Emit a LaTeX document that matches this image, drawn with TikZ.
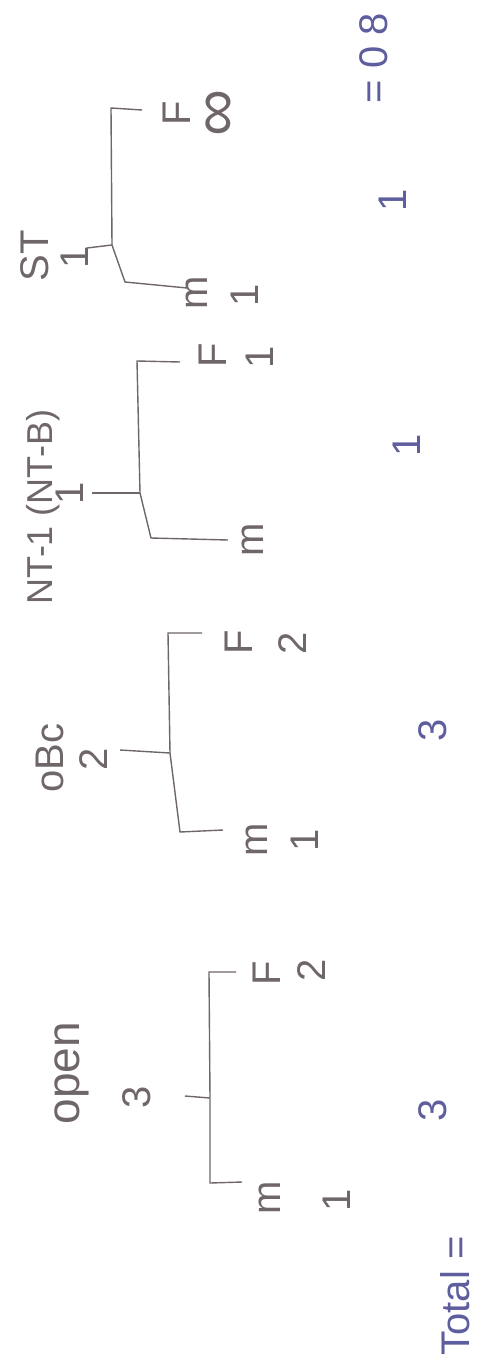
\documentclass[tikz,border=0pt]{standalone}
\usepackage{fontspec}
\setmainfont{Liberation Sans}
\usepackage{tikz}
\usepackage{xcolor}
\definecolor{pencil}{HTML}{6F6668}
\definecolor{ink}{HTML}{5E5E9E}

\tikzset{
	lbl/.style={rotate=90,text=pencil,font=\fontsize{40}{40}\selectfont,inner sep=0pt},
	tot/.style={lbl,text=ink},
	bracket/.style={draw=pencil,line width=1.4pt}
}

\begin{document}
\begin{tikzpicture}[x=1pt,y=-1pt]
		\useasboundingbox (0,0) rectangle (492,1370);
		\node[lbl,font=\fontsize{46}{46}\selectfont] (open) at (72,1073) {open};
		\node[lbl] (opencnt) at (137,1097) {3};
		\node[lbl] (openm) at (270,1198) {m};
		\node[lbl] (openmn) at (337,1200) {1};
		\node[lbl] (openf) at (267,973) {F};
		\node[lbl] (openfn) at (312,970) {2};
		\coordinate (openS) at (185,1096);
		\coordinate (openJ) at (210,1098);
		\coordinate (openT) at (209,972);
		\coordinate (openB) at (210,1183);
		\draw[bracket] (openS)--(openJ);
		\draw[bracket] (242,1182)--(openB)--(openJ)--(openT)--(236,972);
		\node[lbl] (obc) at (50,758) {oBc};
		\node[lbl] (obccnt) at (94,759) {2};
		\node[lbl] (obcm) at (257,840) {m};
		\node[lbl] (obcmn) at (305,840) {1};
		\node[lbl] (obcf) at (239,642) {F};
		\node[lbl] (obcfn) at (293,643) {2};
		\coordinate (obcS) at (120,750);
		\coordinate (obcJ) at (170,753);
		\coordinate (obcT) at (168,633);
		\coordinate (obcB) at (180,832);
		\draw[bracket] (obcS)--(obcJ);
		\draw[bracket] (223,830)--(obcB)--(obcJ)--(obcT)--(202,633);
		\node[lbl,font=\fontsize{36}{36}\selectfont] (nt) at (43,507) {NT-1 (NT-B)};
		\node[lbl] (ntcnt) at (70,493) {1};
		\node[lbl] (ntm) at (253,540) {m};
		\node[lbl] (ntf) at (213,355) {F};
		\node[lbl] (ntfn) at (260,357) {1};
		\coordinate (ntS) at (92,493);
		\coordinate (ntJ) at (140,493);
		\coordinate (ntT) at (137,361);
		\coordinate (ntB) at (151,538);
		\draw[bracket] (ntS)--(ntJ);
		\draw[bracket] (228,540)--(ntB)--(ntJ)--(ntT)--(180,362);
		\node[lbl] (st) at (35,256) {ST};
		\node[lbl] (stcnt) at (75,257) {1};
		\node[lbl] (stm) at (197,293) {m};
		\node[lbl] (stmn) at (245,295) {1};
		\node[lbl] (stf) at (177,113) {F};
		\node[lbl,font=\fontsize{66}{66}\selectfont] (stfn) at (222,113) {∞};
		\coordinate (stS) at (87,248);
		\coordinate (stJ) at (112,245);
		\coordinate (stT) at (111,108);
		\coordinate (stB) at (125,282);
		\draw[bracket] (stS)--(stJ);
		\draw[bracket] (187,288)--(stB)--(stJ)--(stT)--(142,110);
		\node[tot] (total) at (455,1296) {Total =};
		\node[tot] (opentot) at (433,1110) {3};
		\node[tot] (obctot) at (433,730) {3};
		\node[tot] (nttot) at (407,445) {1};
		\node[tot] (sttot) at (393,200) {1};
		\node[tot] (sum) at (374,58) {= 0 8};
	\end{tikzpicture}
\end{document}
